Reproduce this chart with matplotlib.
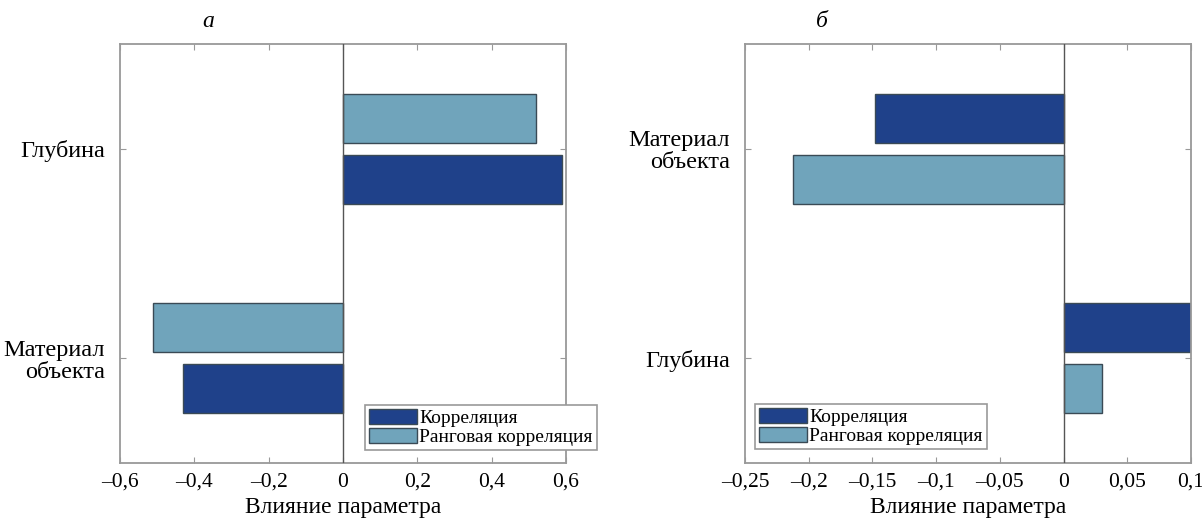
import matplotlib
matplotlib.use('Agg')
import matplotlib.pyplot as plt
import numpy as np

# panel "а"
cats_a = ['Материал\nобъекта', 'Глубина']
corr_a = [-0.43, 0.59]
rank_a = [-0.51, 0.52]
xticks_a = [-0.6, -0.4, -0.2, 0, 0.2, 0.4, 0.6]
xlabels_a = ['–0,6', '–0,4', '–0,2', '0', '0,2', '0,4', '0,6']

# panel "б"
cats_b = ['Глубина', 'Материал\nобъекта']
corr_b = [0.105, -0.148]
rank_b = [0.03, -0.212]
xticks_b = [-0.25, -0.2, -0.15, -0.1, -0.05, 0, 0.05, 0.1]
xlabels_b = ['–0,25', '–0,2', '–0,15', '–0,1', '–0,05', '0', '0,05', '0,1']

dark = '#1f418a'
light = '#70a4bb'
edge = '#3a4a55'

plt.rcParams['font.family'] = ['Liberation Serif', 'DejaVu Serif']


def draw_panel(ax, cats, corr, rank, xticks, xlabels, xlim, corr_on_top, tag, tag_x, leg_anchor):
    y = np.arange(1, len(cats) + 1)
    off = 0.145
    h = 0.235
    c_off = off if corr_on_top else -off
    ax.barh(y + c_off, corr, height=h, color=dark, edgecolor=edge, linewidth=1, label='Корреляция')
    ax.barh(y - c_off, rank, height=h, color=light, edgecolor=edge, linewidth=1, label='Ранговая корреляция')
    ax.axvline(0, color='#555555', linewidth=1, zorder=3)
    ax.set_xlim(xlim)
    ax.set_ylim(0.5, 2.5)
    ax.set_xticks(xticks)
    ax.set_xticklabels(xlabels, fontsize=15.5)
    ax.set_yticks(y)
    ax.set_yticklabels(cats, fontsize=17.5, linespacing=1.05)
    ax.tick_params(direction='in', length=4, color='#999999', top=True, right=True)
    ax.tick_params(axis='x', pad=7)
    ax.tick_params(axis='y', pad=11)
    for s in ax.spines.values():
        s.set_color('#999999')
        s.set_linewidth(1.3)
    ax.set_xlabel('Влияние параметра', fontsize=17, labelpad=4)
    ax.set_title(tag, fontsize=17, style='italic', loc='left', x=tag_x, pad=12)
    leg = ax.legend(loc='lower left', bbox_to_anchor=leg_anchor, borderaxespad=0,
                    fancybox=False, fontsize=14, handlelength=2.5, handleheight=0.8,
                    labelspacing=0.05, handletextpad=0.1, borderpad=0.2, framealpha=1)
    leg.get_frame().set_edgecolor('#999999')
    leg.get_frame().set_linewidth(1.2)
    leg.set_clip_on(False)


fig = plt.figure(figsize=(12.02, 5.21), dpi=100)
ax1 = fig.add_axes([120 / 1202, 58 / 521, 446 / 1202, 419 / 521])
ax2 = fig.add_axes([745 / 1202, 58 / 521, 446 / 1202, 419 / 521])

draw_panel(ax1, cats_a, corr_a, rank_a, xticks_a, xlabels_a, (-0.6, 0.6), False, 'а', 0.185, (0.549, 0.031))
draw_panel(ax2, cats_b, corr_b, rank_b, xticks_b, xlabels_b, (-0.25, 0.1), True, 'б', 0.158, (0.022, 0.033))

fig.savefig('out.png', dpi=100, facecolor='white')
